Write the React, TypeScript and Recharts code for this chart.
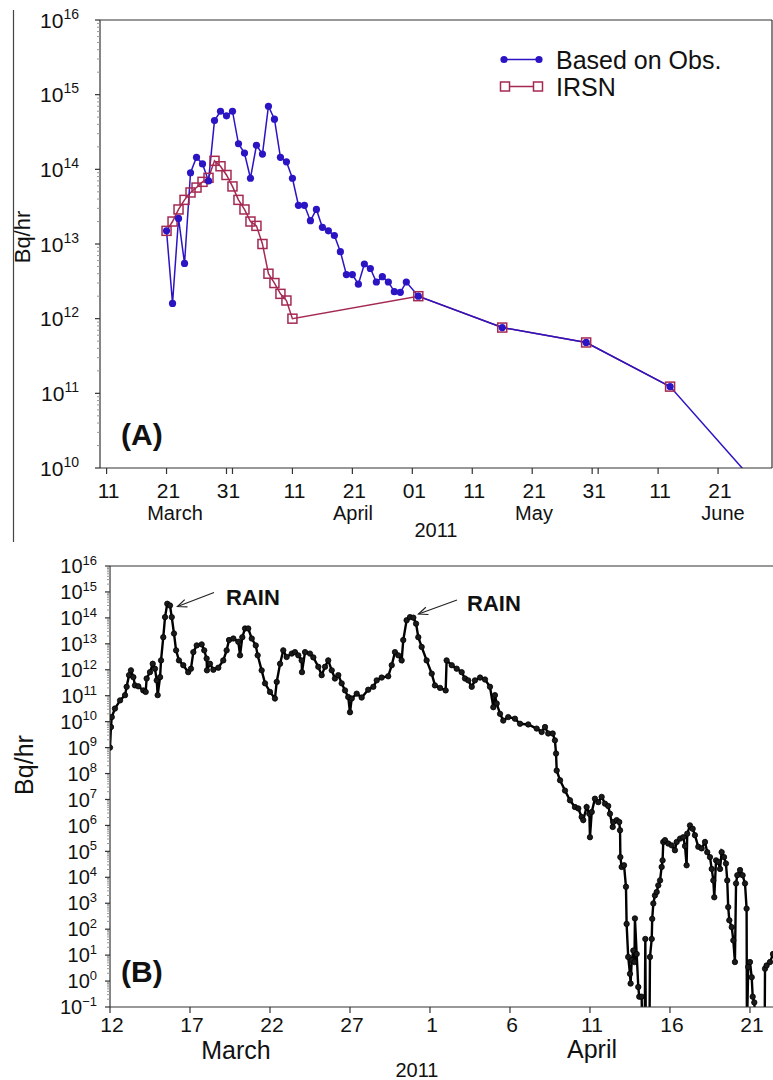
import React from "react"
import { LineChart, Line, XAxis, YAxis, ReferenceLine } from "recharts"

// all days are counted from 1 March 2011 (0 = Mar 1, 31 = Apr 1, 61 = May 1, 92 = Jun 1)

// ---- panel A : source term, daily ----
const obsDays = [
  20, 21, 22, 23, 24, 25, 26, 27, 28, 29, 30, 31, 32, 33, 34, 35, 36, 37, 38, 39, 40,
  41, 42, 43, 44, 45, 46, 47, 48, 49, 50, 51, 52, 53, 54, 55, 56, 57, 58, 59, 60,
  62, 76, 90, 104, 118,
]
const obsRelease = [
  1.5e13, 1.6e12, 2.2e13, 5.5e12, 9.0e13, 1.45e14, 1.18e14, 7.0e13, 4.5e14, 6.0e14, 5.2e14,
  6.0e14, 2.2e14, 1.65e14, 7.6e13, 2.1e14, 1.6e14, 7.0e14, 4.7e14, 1.45e14, 1.26e14,
  7.6e13, 3.3e13, 3.3e13, 2.05e13, 2.9e13, 1.67e13, 1.5e13, 1.3e13, 7.9e12, 3.9e12,
  3.9e12, 2.9e12, 5.4e12, 4.7e12, 3.1e12, 3.65e12, 3.1e12, 2.3e12, 2.25e12, 3.1e12,
  2.0e12, 7.6e11, 4.8e11, 1.23e11, 6.6e9,
]
const irsnDays = [
  20, 21, 22, 23, 24, 25, 26, 27, 28, 29, 30, 31, 32, 33, 34, 35, 36, 37, 38, 39, 40, 41,
  62, 76, 90, 104,
]
const irsnRelease = [
  1.5e13, 2.0e13, 2.9e13, 3.9e13, 4.9e13, 5.7e13, 6.8e13, 7.7e13, 1.3e14, 1.1e14, 8.4e13,
  5.9e13, 3.9e13, 2.9e13, 2.0e13, 1.75e13, 1.0e13, 4.0e12, 3.0e12, 2.15e12, 1.75e12, 1.0e12,
  2.0e12, 7.6e11, 4.8e11, 1.23e11,
]
const aTicks = [10, 20, 30, 31, 41, 51, 61, 71, 81, 91, 92, 102, 112]
const aTickLabels = ["11", "21", "31", "", "11", "21", "01", "11", "21", "31", "", "11", "21"]
const aExponents = [10, 11, 12, 13, 14, 15, 16]

// ---- panel B : hourly estimate ----
const bDays = [
  11.0, 11.06, 11.11, 11.31, 11.63, 11.94, 12.04, 12.19, 12.31, 12.46, 12.56, 12.77, 13.08, 13.23,
  13.29, 13.5, 13.67, 13.81, 13.92, 13.98, 14.13, 14.19, 14.33, 14.44, 14.58, 14.75, 14.86, 15.0,
  15.13, 15.31, 15.58, 15.89, 16.06, 16.21, 16.42, 16.73, 16.89, 17.04, 17.06, 17.25, 17.46, 17.77,
  18.08, 18.29, 18.44, 18.71, 19.02, 19.13, 19.27, 19.44, 19.64, 19.86, 20.11, 20.23, 20.48, 20.69,
  21.0, 21.31, 21.42, 21.63, 21.83, 22.04, 22.36, 22.56, 22.77, 22.98, 23.0, 23.19, 23.5, 23.71,
  24.02, 24.23, 24.44, 24.64, 24.86, 25.06, 25.27, 25.48, 25.69, 25.89, 26.0, 26.11, 26.42, 26.73,
  27.14, 27.46, 27.67, 27.98, 28.39, 28.61, 28.81, 29.02, 29.23, 29.33, 29.54, 29.75, 29.96, 30.13,
  30.27, 30.48, 30.79, 31.11, 31.31, 31.63, 31.98, 32.04, 32.36, 32.67, 32.98, 33.19, 33.39, 33.61,
  33.81, 34.13, 34.44, 34.75, 34.96, 35.06, 35.17, 35.38, 35.58, 35.89, 36.31, 36.63, 37.14, 37.67,
  37.98, 38.19, 38.39, 38.67, 38.81, 38.88, 38.92, 39.13, 39.44, 39.75, 40.06, 40.27, 40.48, 40.58,
  40.79, 40.96, 41.0, 41.11, 41.31, 41.52, 41.73, 41.94, 42.14, 42.25, 42.42, 42.46, 42.67, 42.83,
  42.88, 42.9, 42.98, 43.13, 43.25, 43.29, 43.39, 43.5, 43.54, 43.61, 43.71, 43.78, 43.81, 43.92,
  44.02, 44.08, 44.23, 44.27, 44.42, 44.46, 44.49, 44.72, 44.75, 44.86, 44.89, 44.96, 45.06, 45.17,
  45.27, 45.38, 45.48, 45.54, 45.58, 45.69, 45.89, 46.11, 46.31, 46.42, 46.63, 46.83, 46.94, 47.04,
  47.08, 47.25, 47.42, 47.56, 47.77, 47.98, 48.19, 48.33, 48.5, 48.61, 48.71, 48.77, 48.88, 49.02,
  49.13, 49.23, 49.38, 49.5, 49.58, 49.64, 49.71, 49.86, 49.96, 50.06, 50.13, 50.21, 50.38, 50.54,
  50.69, 50.79, 50.81, 50.89, 51.0, 51.11, 51.17, 51.27, 51.38, 51.92, 51.94, 52.04, 52.25, 52.44,
]
const bRelease = [
  1.0e9, 6.2e9, 1.5e10, 3.2e10, 6.6e10, 1.05e11, 2.2e11, 6.2e11, 9.5e11, 5.2e11, 2.5e11, 2.3e11, 1.6e11, 1.4e11,
  4.6e11, 8.1e11, 1.7e12, 1.1e12, 3.9e11, 1.05e11, 5.2e11, 2.3e12, 1.8e13, 1.07e14, 3.5e14, 3.0e14, 1.07e14, 2.5e13,
  5.6e12, 2.3e12, 1.5e12, 8.1e11, 1.1e12, 4.8e12, 8.7e12, 9.5e12, 5.6e12, 2.7e12, 9.5e11, 1.7e12, 1.0e12, 1.2e12,
  2.3e12, 5.6e12, 1.4e13, 1.6e13, 1.2e13, 3.6e12, 1.8e13, 3.9e13, 3.9e13, 1.6e13, 8.7e12, 3.6e12, 9.5e11, 3.0e11,
  1.4e11, 7.8e10, 3.4e11, 1.7e12, 5.6e12, 3.1e12, 4.2e12, 4.8e12, 3.6e12, 2.3e12, 8.1e11, 4.8e12, 4.2e12, 3.0e12,
  1.3e12, 6.2e11, 1.3e12, 2.3e12, 9.5e11, 4.6e11, 6.2e11, 3.0e11, 1.6e11, 8.9e10, 2.3e10, 7.8e10, 1.2e11, 8.5e10,
  1.7e11, 2.2e11, 3.9e11, 5.0e11, 5.6e11, 1.5e12, 4.8e12, 3.6e12, 2.3e12, 1.4e13, 8.1e13, 1.07e14, 1.02e14, 6.0e13,
  1.8e13, 7.6e12, 2.3e12, 7.1e11, 2.5e11, 2.0e11, 1.6e11, 2.3e12, 1.5e12, 1.1e12, 8.1e11, 4.6e11, 3.9e11, 2.2e11,
  3.9e11, 5.0e11, 4.2e11, 2.2e11, 3.6e10, 1.05e11, 5.0e10, 2.0e10, 1.1e10, 1.5e10, 1.3e10, 8.3e9, 7.8e9, 5.4e9,
  4.0e9, 6.2e9, 3.5e9, 3.5e9, 1.9e9, 5.9e8, 1.3e8, 5.5e7, 2.2e7, 9.3e6, 5.1e6, 4.5e6, 2.1e6, 1.6e6,
  5.1e6, 2.8e6, 3.5e5, 3.3e6, 1.07e7, 7.9e6, 1.26e7, 6.9e6, 5.6e6, 2.8e6, 8.7e5, 1.35e6, 1.6e6, 1.35e6,
  6.5e5, 6.0e4, 2.5e4, 2.9e4, 4.3e3, 160, 8.5, 1.9, 0.8, 6.3, 15, 5.4, 260, 11,
  0.59, 0.25, 0.25, 0.01, 0.01, 42, 0.01, 0.01, 8.5, 42, 250, 980, 2.0e3, 2.7e3,
  4.9e3, 7.6e3, 2.5e4, 4.5e4, 2.3e5, 2.7e5, 2.0e5, 1.7e5, 1.1e5, 2.3e5, 3.1e5, 3.5e5, 1.6e5, 2.9e4,
  4.8e5, 1.0e6, 7.4e5, 4.2e5, 1.5e5, 1.3e5, 2.3e5, 9.3e4, 6.0e4, 2.1e4, 7.6e3, 1.7e3, 4.5e4, 3.9e4,
  2.1e4, 9.3e4, 6.0e4, 3.4e4, 7.6e3, 710, 220, 120, 37, 5.4, 5.8e3, 1.2e4, 1.9e4, 1.2e4,
  5.8e3, 620, 0.01, 3.5, 5.4, 1.4, 0.25, 0.15, 0.01, 0.01, 3.0, 4.0, 5.4, 11,
]
const bTicks = [11, 16, 21, 26, 31, 36, 41, 46, 51]
const bTickLabels = ["12", "17", "22", "27", "1", "6", "11", "16", "21"]
const bExponents = [-1, 0, 1, 2, 3, 4, 5, 6, 7, 8, 9, 10, 11, 12, 13, 14, 15, 16]

const minorSteps = [2, 3, 4, 5, 6, 7, 8, 9]

const BLUE = "#2b14c4"
const IRSN = "#a52a52"
const AX = "#333"
const FONT = "'Liberation Sans', Arial, Helvetica, sans-serif"

function logTicks(exps: number[]) {
  const out: number[] = []
  exps.forEach((e, i) => {
    out.push(Math.pow(10, e))
    if (i < exps.length - 1) minorSteps.forEach((m) => out.push(m * Math.pow(10, e)))
  })
  return out
}

const obsData = obsDays.map((t, i) => ({ t, v: obsRelease[i] }))
const irsnData = irsnDays.map((t, i) => ({ t, v: irsnRelease[i] }))
const bData = bDays.map((t, i) => ({ t, v: bRelease[i] }))

const LogTick = (props: any) => {
  const { x, y, payload, fs, sup, gap } = props
  const lg = Math.log10(payload.value)
  const e = Math.round(lg)
  if (Math.abs(lg - e) > 1e-6) {
    return <line x1={x - 3} x2={x} y1={y} y2={y} stroke="#999" strokeWidth={1} />
  }
  return (
    <g>
      <line x1={x - 5} x2={x} y1={y} y2={y} stroke={AX} strokeWidth={1.2} />
      <text x={x - gap} y={y + fs * 0.36} textAnchor="end" fontSize={fs} fill="#111">
        10
        <tspan dy={-fs * 0.42} fontSize={sup}>
          {e < 0 ? "\u2212" + -e : String(e)}
        </tspan>
      </text>
    </g>
  )
}

const DayTick = (props: any) => {
  const { x, y, payload, ticks, labels, fs, dy, up } = props
  const label = labels[ticks.indexOf(payload.value)]
  return (
    <g>
      <line x1={x} x2={x} y1={y} y2={up ? y - 6 : y + 6} stroke={AX} strokeWidth={1.2} />
      {!up && label ? (
        <text x={x + 2} y={y + dy} textAnchor="middle" fontSize={fs} fill="#111">
          {label}
        </text>
      ) : null}
    </g>
  )
}

const SquareDot = (props: any) => {
  const { cx, cy, index } = props
  if (cx == null || cy == null) return <g key={"sq" + index} />
  return (
    <rect key={"sq" + index} x={cx - 4.5} y={cy - 4.5} width={9} height={9}
      fill="none" stroke={IRSN} strokeWidth={1.5} />
  )
}

function Arrow({ x1, y1, x2, y2 }: { x1: number; y1: number; x2: number; y2: number }) {
  const a = Math.atan2(y2 - y1, x2 - x1)
  const L = 10
  const h1 = [x2 - L * Math.cos(a - 0.4), y2 - L * Math.sin(a - 0.4)]
  const h2 = [x2 - L * Math.cos(a + 0.4), y2 - L * Math.sin(a + 0.4)]
  return (
    <g stroke="#222" strokeWidth={1.2} fill="none">
      <line x1={x1} y1={y1} x2={x2} y2={y2} />
      <polyline points={`${h1[0]},${h1[1]} ${x2},${y2} ${h2[0]},${h2[1]}`} />
    </g>
  )
}

export default function App() {
  const axLine = { stroke: AX, strokeWidth: 1.2 }
  return (
    <div style={{ position: "absolute", left: 0, top: 0, width: 773, height: 1080, background: "#fff", fontFamily: FONT, overflow: "hidden" }}>
      <div style={{ position: "absolute", left: 0, top: 0 }}>
        <LineChart width={773} height={545} margin={{ top: 19, right: 1, bottom: 76, left: 0 }}>
          <XAxis dataKey="t" type="number" domain={[8.9, 121]} allowDataOverflow ticks={aTicks} interval={0}
            height={1} tickSize={0} tickMargin={0} tickLine={false} axisLine={axLine}
            tick={<DayTick ticks={aTicks} labels={aTickLabels} fs={21} dy={30} />} />
          <XAxis xAxisId="top" orientation="top" type="number" domain={[8.9, 121]} allowDataOverflow ticks={aTicks}
            interval={0} height={1} tickSize={0} tickMargin={0} tickLine={false} axisLine={axLine}
            tick={<DayTick ticks={aTicks} labels={aTickLabels} up />} />
          <YAxis scale="log" type="number" domain={[1e10, 1e16]} allowDataOverflow ticks={logTicks(aExponents)}
            interval={0} width={100} tickSize={0} tickMargin={0} tickLine={false} axisLine={axLine}
            tick={<LogTick fs={21} sup={14} gap={21} />} />
          <ReferenceLine x={121} stroke={AX} strokeWidth={1.2} />
          <Line data={irsnData} dataKey="v" stroke={IRSN} strokeWidth={1.5} dot={SquareDot} isAnimationActive={false} />
          <Line data={obsData} dataKey="v" stroke={BLUE} strokeWidth={1.5}
            dot={{ r: 3.6, fill: BLUE, stroke: BLUE, strokeWidth: 0 }} isAnimationActive={false} />
        </LineChart>
      </div>
      <div style={{ position: "absolute", left: 0, top: 545 }}>
        <LineChart width={773} height={535} margin={{ top: 20, right: 0, bottom: 72, left: 0 }}>
          <XAxis dataKey="t" type="number" domain={[11, 52.44]} allowDataOverflow ticks={bTicks} interval={0}
            height={1} tickSize={0} tickMargin={0} tickLine={false} axisLine={axLine}
            tick={<DayTick ticks={bTicks} labels={bTickLabels} fs={21} dy={25} />} />
          <XAxis xAxisId="top" orientation="top" type="number" domain={[11, 52.44]} allowDataOverflow ticks={bTicks}
            interval={0} height={1} tickSize={0} tickMargin={0} tickLine={false} axisLine={axLine}
            tick={<DayTick ticks={bTicks} labels={bTickLabels} up />} />
          <YAxis scale="log" type="number" domain={[0.1, 1e16]} allowDataOverflow ticks={logTicks(bExponents)}
            interval={0} width={110} tickSize={0} tickMargin={0} tickLine={false} axisLine={axLine}
            tick={<LogTick fs={20} sup={13} gap={13} />} />
          <Line data={bData} dataKey="v" stroke="#000" strokeWidth={2.4}
            dot={{ r: 2.7, fill: "#1a1a1a", stroke: "#000", strokeWidth: 0.8 }} isAnimationActive={false} />
        </LineChart>
      </div>
      <svg width={773} height={1080} style={{ position: "absolute", left: 0, top: 0, pointerEvents: "none" }}
        fontFamily={FONT} fill="#111">
        <line x1={13.5} x2={13.5} y1={10} y2={542} stroke="#444" strokeWidth={1.2} />
        {/* panel A */}
        <text transform="translate(30,237) rotate(-90)" textAnchor="middle" fontSize={22}>Bq/hr</text>
        <line x1={504} x2={539} y1={59.5} y2={59.5} stroke={BLUE} strokeWidth={1.5} />
        <circle cx={504} cy={59.5} r={3.6} fill={BLUE} />
        <circle cx={539} cy={59.5} r={3.6} fill={BLUE} />
        <text x={556} y={69} fontSize={25}>Based on Obs.</text>
        <line x1={505} x2={538} y1={86.5} y2={86.5} stroke={IRSN} strokeWidth={1.5} />
        <rect x={500.5} y={82} width={9} height={9} fill="#fff" stroke={IRSN} strokeWidth={1.5} />
        <rect x={533.5} y={82} width={9} height={9} fill="#fff" stroke={IRSN} strokeWidth={1.5} />
        <text x={556} y={96} fontSize={25}>IRSN</text>
        <text x={121} y={445} fontSize={30} fontWeight="bold">(A)</text>
        <text x={175} y={520} fontSize={20} textAnchor="middle">March</text>
        <text x={353} y={520} fontSize={20} textAnchor="middle">April</text>
        <text x={534} y={520} fontSize={20} textAnchor="middle">May</text>
        <text x={723} y={520} fontSize={20} textAnchor="middle">June</text>
        <text x={436} y={537} fontSize={20} textAnchor="middle">2011</text>
        {/* panel B */}
        <text transform="translate(33,765) rotate(-90)" textAnchor="middle" fontSize={25}>Bq/hr</text>
        <text x={121} y={982} fontSize={30} fontWeight="bold">(B)</text>
        <text x={236} y={1059} fontSize={25} textAnchor="middle">March</text>
        <text x={592} y={1058} fontSize={25} textAnchor="middle">April</text>
        <text x={417} y={1077} fontSize={20} textAnchor="middle">2011</text>
        <text x={226} y={605} fontSize={22} fontWeight="bold">RAIN</text>
        <Arrow x1={214} y1={592.5} x2={177.5} y2={606.5} />
        <text x={467} y={611} fontSize={22} fontWeight="bold">RAIN</text>
        <Arrow x1={457} y1={600} x2={418.5} y2={614} />
      </svg>
    </div>
  )
}
